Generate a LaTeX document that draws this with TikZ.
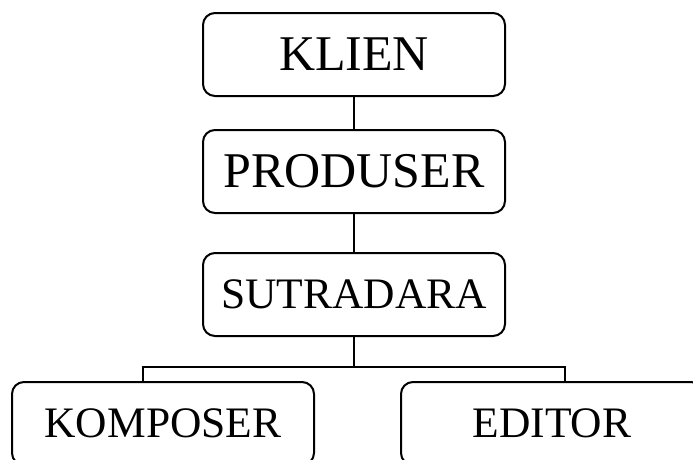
\documentclass[tikz,border=0pt]{standalone}
\usepackage{fontspec}
\setmainfont{Liberation Serif}
\tikzset{
  jabatan/.style={draw,line width=2pt,rounded corners=12pt,minimum width=302pt,
    minimum height=83pt,inner sep=0pt,font=\fontsize{50}{60}\selectfont},
  kecil/.style={font=\fontsize{43.5}{52}\selectfont},
  garis/.style={line width=2.6pt}
}
\begin{document}
\begin{tikzpicture}[x=1pt,y=1pt,line cap=butt,line join=miter]
  \clip (0,0) rectangle (693,-459);
  \node[jabatan] (klien) at (354,-54.5) {KLIEN};
  \node[jabatan] (produser) at (354,-171.5) {PRODUSER};
  \node[jabatan,kecil] (sutradara) at (354,-294.5) {SUTRADARA};
  \node[jabatan,kecil] (komposer) at (163,-423.5) {KOMPOSER};
  \node[jabatan,kecil] (editor) at (552,-423.5) {EDITOR};
  \coordinate (cabang) at (354,-367);
  \coordinate (kiri) at (143,-367);
  \coordinate (kanan) at (565,-367);
  \draw[garis] (klien) -- (produser);
  \draw[garis] (produser) -- (sutradara);
  \draw[garis] (sutradara) -- ([yshift=-1.3pt]cabang);
  \draw[garis] ([xshift=-1.3pt]kiri) -- ([xshift=1.3pt]kanan);
  \draw[garis] (kiri) -- (kiri |- komposer.north);
  \draw[garis] (kanan) -- (kanan |- editor.north);
\end{tikzpicture}
\end{document}
